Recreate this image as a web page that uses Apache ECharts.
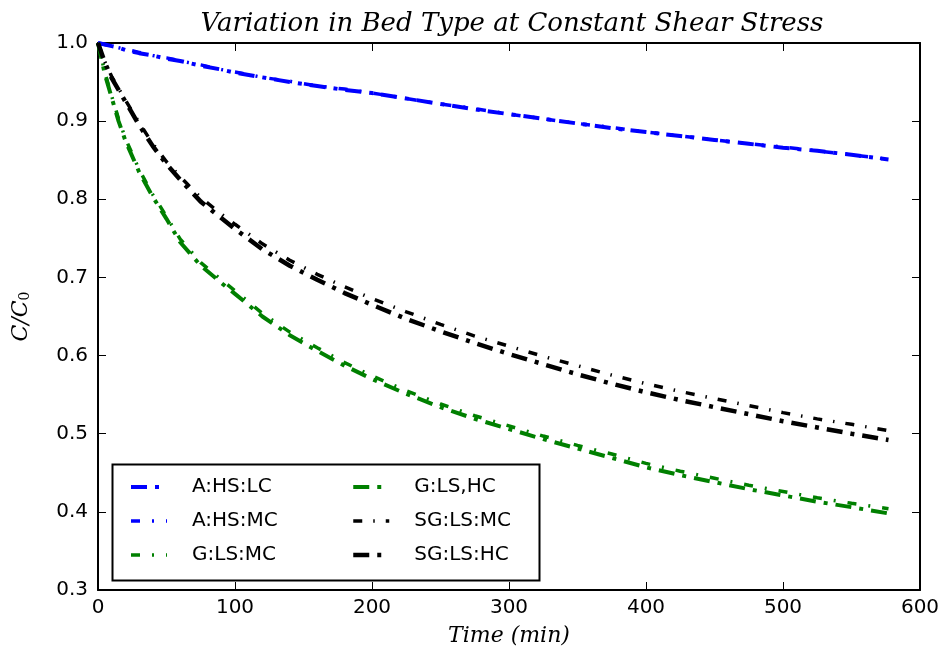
<!DOCTYPE html>
<html>
<head>
<meta charset="utf-8">
<script src="https://cdn.jsdelivr.net/npm/echarts@6/dist/echarts.min.js"></script>
<style>html,body{margin:0;padding:0;background:#fff}#c{width:947px;height:664px}</style>
</head>
<body>
<div id="c"></div>
<script>
// Time (min)
var times = [0,5,10,15,20,30,40,50,60,75,90,100,120,140,160,180,200,225,250,275,300,325,350,375,400,425,450,475,500,525,550,577];
var aHsLc = [1.0,0.998,0.996,0.994,0.991,0.987,0.984,0.980,0.977,0.971,0.966,0.962,0.956,0.950,0.945,0.940,0.936,0.929,0.922,0.915,0.909,0.903,0.897,0.891,0.886,0.881,0.876,0.871,0.866,0.862,0.857,0.851];
var aHsMc = [1.0,0.998,0.996,0.994,0.992,0.988,0.984,0.981,0.977,0.972,0.966,0.963,0.956,0.951,0.945,0.941,0.936,0.929,0.922,0.916,0.909,0.903,0.897,0.892,0.886,0.881,0.876,0.871,0.867,0.862,0.857,0.851];
var gLsMc = [1.0,0.962,0.932,0.903,0.878,0.838,0.806,0.778,0.749,0.719,0.697,0.683,0.654,0.630,0.610,0.591,0.574,0.555,0.538,0.523,0.510,0.497,0.485,0.474,0.462,0.452,0.443,0.434,0.426,0.418,0.411,0.404];
var gLsHc = [1.0,0.960,0.930,0.900,0.875,0.835,0.803,0.775,0.745,0.715,0.693,0.679,0.650,0.626,0.606,0.587,0.570,0.551,0.534,0.519,0.506,0.493,0.481,0.469,0.457,0.447,0.438,0.429,0.421,0.413,0.406,0.398];
var sgLsMc = [1.0,0.976,0.957,0.942,0.927,0.898,0.871,0.848,0.829,0.802,0.781,0.768,0.743,0.722,0.704,0.688,0.673,0.656,0.640,0.625,0.612,0.599,0.587,0.575,0.564,0.554,0.545,0.536,0.527,0.519,0.512,0.504];
var sgLsHc = [1.0,0.975,0.955,0.940,0.925,0.895,0.868,0.845,0.825,0.797,0.776,0.762,0.736,0.715,0.697,0.680,0.665,0.647,0.631,0.616,0.602,0.589,0.576,0.564,0.553,0.543,0.534,0.525,0.516,0.508,0.500,0.492];
var xTicks = [0,100,200,300,400,500,600];
var yTicks = [0.3,0.4,0.5,0.6,0.7,0.8,0.9,1.0];

function pairs(v){ return times.map(function(t,i){ return [t, v[i]]; }); }

var serif = "'DejaVu Serif', serif";
var sans = "'DejaVu Sans', sans-serif";

var seriesDefs = [
  {name:'A:HS:LC', data:aHsLc, color:'#0000ff', width:4, dash:[16,8,4,8]},
  {name:'A:HS:MC', data:aHsMc, color:'#0000ff', width:3.5, dash:[9,12,2,12]},
  {name:'G:LS:MC', data:gLsMc, color:'#008000', width:3.5, dash:[9,12,2,12]},
  {name:'G:LS,HC', data:gLsHc, color:'#008000', width:4, dash:[16,8,4,8]},
  {name:'SG:LS:MC', data:sgLsMc, color:'#000000', width:3.5, dash:[9,11,1.5,11]},
  {name:'SG:LS:HC', data:sgLsHc, color:'#000000', width:4.5, dash:[16,8,4,8]}
];

var series = seriesDefs.map(function(s){
  return {
    name: s.name, type:'line', data: pairs(s.data), showSymbol:false, symbol:'none',
    xAxisIndex:0, yAxisIndex:0,
    lineStyle:{color:s.color, width:s.width, type:s.dash, cap:'butt'},
    itemStyle:{color:s.color},
    emphasis:{disabled:true}, animation:false
  };
});

function legendItems(names){
  return names.map(function(n){
    var d = seriesDefs.filter(function(s){ return s.name === n; })[0];
    return {name:n, lineStyle:{width:d.width, type:d.dash, color:d.color}};
  });
}

var legendCommon = {
  orient:'vertical', itemWidth:36, itemHeight:20, itemGap:14,
  itemStyle:{opacity:0},
  textStyle:{fontFamily:sans, fontSize:20, color:'#000', padding:[0,0,0,20]},
  selectedMode:false
};

var chart = echarts.init(document.getElementById('c'), null, {renderer:'canvas'});
chart.setOption({
  animation:false,
  backgroundColor:'#fff',
  title:{
    text:'Variation in Bed Type at Constant Shear Stress',
    left:507, textAlign:'center', top:6,
    textStyle:{fontFamily:serif, fontStyle:'italic', fontWeight:'normal', fontSize:26, color:'#000'}
  },
  grid:{left:98, right:27, top:43, bottom:74},
  legend:[
    Object.assign({}, legendCommon, {left:124, top:472, data:legendItems(['A:HS:LC','A:HS:MC','G:LS:MC'])}),
    Object.assign({}, legendCommon, {left:346, top:472, data:legendItems(['G:LS,HC','SG:LS:MC','SG:LS:HC'])})
  ],
  xAxis:[{
    type:'value', min:0, max:600, interval:100,
    name:'Time (min)', nameLocation:'middle', nameGap:35,
    nameTextStyle:{fontFamily:serif, fontStyle:'italic', fontSize:22, color:'#000'},
    axisLine:{show:true, onZero:false, lineStyle:{color:'#000', width:2}},
    axisTick:{show:true, inside:true, length:8, lineStyle:{color:'#000', width:1}},
    axisLabel:{fontFamily:sans, fontSize:20, color:'#000', margin:8},
    splitLine:{show:false}
  },{
    type:'value', min:0, max:600, interval:100, position:'top',
    axisLine:{show:true, onZero:false, lineStyle:{color:'#000', width:2}},
    axisTick:{show:true, inside:true, length:8, lineStyle:{color:'#000', width:1}},
    axisLabel:{show:false}, splitLine:{show:false}
  }],
  yAxis:[{
    type:'value', min:0.3, max:1.0, interval:0.1,
    name:'{c|C/C}{s|0}', nameLocation:'middle', nameGap:66, nameRotate:90,
    nameTextStyle:{rich:{
      c:{fontFamily:serif, fontStyle:'italic', fontSize:22, color:'#000'},
      s:{fontFamily:serif, fontSize:14, color:'#000', verticalAlign:'bottom', padding:[8,0,0,0]}
    }},
    axisLine:{show:true, onZero:false, lineStyle:{color:'#000', width:2}},
    axisTick:{show:true, inside:true, length:8, lineStyle:{color:'#000', width:1}},
    axisLabel:{fontFamily:sans, fontSize:20, color:'#000', margin:10, formatter:function(v){return v.toFixed(1);}},
    splitLine:{show:false}
  },{
    type:'value', min:0.3, max:1.0, interval:0.1, position:'right',
    axisLine:{show:true, onZero:false, lineStyle:{color:'#000', width:2}},
    axisTick:{show:true, inside:true, length:8, lineStyle:{color:'#000', width:1}},
    axisLabel:{show:false}, splitLine:{show:false}
  }],
  series: series,
  graphic:[{
    type:'rect', left:110, top:462, z:100,
    shape:{width:427, height:116},
    style:{fill:null, stroke:'#000', lineWidth:2}
  }]
});
</script>
</body>
</html>
